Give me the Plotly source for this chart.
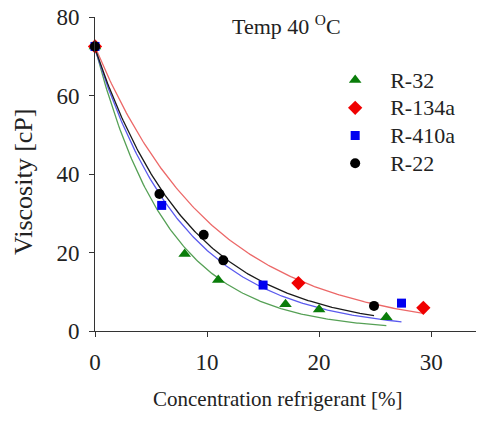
import numpy as np
import plotly.graph_objects as go

# Measured viscosity of oil/refrigerant mixtures at 40 °C
conc_r32 = [0.0, 8.0, 11.0, 17.0, 20.0, 26.0]
visc_r32 = [72.5, 19.6, 13.0, 6.8, 5.5, 3.5]

conc_r134a = [0.0, 18.15, 29.3]
visc_r134a = [72.5, 12.2, 5.9]

conc_r410a = [0.0, 5.95, 15.0, 27.35]
visc_r410a = [72.5, 32.0, 11.7, 7.1]

conc_r22 = [0.0, 5.75, 9.7, 11.45, 24.9]
visc_r22 = [72.5, 34.9, 24.5, 18.0, 6.4]

x_ticks = [0, 10, 20, 30]
y_ticks = [0, 20, 40, 60, 80]

FONT = "Liberation Serif"
TEXT = "#222222"


def fit_exp_decay(x, y):
    """Least-squares fit of y = a * exp(-b * x)."""
    x = np.asarray(x, float)
    y = np.asarray(y, float)
    best = None
    for b in np.linspace(0.005, 0.5, 9901):
        e = np.exp(-b * x)
        a = (y @ e) / (e @ e)
        sse = np.sum((y - a * e) ** 2)
        if best is None or sse < best[0]:
            best = (sse, a, b)
    return best[1], best[2]


# drawn back to front; legendrank keeps the legend order
series = [
    ("R-134a", conc_r134a, visc_r134a, "#f00000", "#ec6868", "diamond", 11, 2),
    ("R-32", conc_r32, visc_r32, "#0a7d0a", "#55a055", "triangle-up", 11, 1),
    ("R-410a", conc_r410a, visc_r410a, "#0000f0", "#5a5aee", "square", 9, 3),
    ("R-22", conc_r22, visc_r22, "#000000", "#1a1a1a", "circle", 10, 4),
]

fig = go.Figure()

# fitted decay curves
for name, x, y, mcol, lcol, sym, size, rank in series:
    a, b = fit_exp_decay(x, y)
    xs = np.linspace(0, max(x), 200)
    fig.add_trace(go.Scatter(
        x=xs, y=a * np.exp(-b * xs), mode="lines",
        line=dict(color=lcol, width=1.3), showlegend=False,
        hoverinfo="skip", cliponaxis=False,
    ))

# measured points; legend labels set larger than the legend row pitch
for name, x, y, mcol, lcol, sym, size, rank in series:
    fig.add_trace(go.Scatter(
        x=x, y=y, mode="markers", legendrank=rank,
        name=f'<span style="font-size:22px">{name}</span>',
        marker=dict(symbol=sym, color=mcol, size=size, line=dict(width=0)),
        cliponaxis=False,
    ))

axis_common = dict(
    showgrid=False, zeroline=False, showline=True,
    linecolor="#333333", linewidth=1,
    ticks="outside", ticklen=5, tickwidth=1, tickcolor="#333333",
    tickfont=dict(family=FONT, size=23, color=TEXT),
)

fig.update_xaxes(range=[0, 34], tickvals=x_ticks, ticklabelstandoff=5,
                 **axis_common)
fig.update_yaxes(range=[0, 80], tickvals=y_ticks, ticklabelstandoff=5,
                 **axis_common)

# axis titles
fig.add_annotation(
    text="Concentration refrigerant [%]", xref="paper", yref="paper",
    x=0.48, y=-0.217, xanchor="center", yanchor="middle", showarrow=False,
    font=dict(family=FONT, size=21, color=TEXT),
)
fig.add_annotation(
    text="Viscosity [cP]", xref="paper", yref="paper", textangle=-90,
    x=-0.189, y=0.4745, xanchor="center", yanchor="middle", showarrow=False,
    font=dict(family=FONT, size=26, color=TEXT),
)

fig.add_annotation(
    text="Temp 40 <sup>O</sup>C", xref="paper", yref="paper",
    x=0.355, y=0.975, xanchor="left", yanchor="middle", showarrow=False,
    font=dict(family=FONT, size=22, color=TEXT),
)

fig.update_layout(
    width=478, height=422, autosize=False,
    margin=dict(l=95, r=2, t=17, b=91),
    paper_bgcolor="white", plot_bgcolor="white",
    legend=dict(
        x=0.591, y=0.859, xanchor="left", yanchor="top",
        font=dict(family=FONT, size=19, color=TEXT),
        bgcolor="rgba(0,0,0,0)", itemwidth=60, tracegroupgap=0,
    ),
)

fig.write_html("out.html")
